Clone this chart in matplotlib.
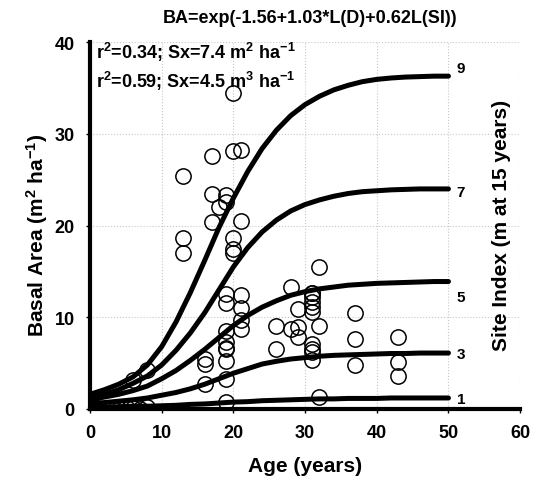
import matplotlib
matplotlib.use("Agg")
import matplotlib.pyplot as plt

plt.rcParams["font.family"] = ["Liberation Sans", "DejaVu Sans"]
plt.rcParams["font.weight"] = "bold"
plt.rcParams["mathtext.default"] = "regular"

# observed stands
AGE = [20, 17, 20, 21, 13, 17, 19, 19, 18, 17, 21, 13, 13, 20, 20, 20,
       32, 28, 19, 21, 31, 19, 21, 21, 21, 19, 19, 19, 19, 19, 19, 19,
       16, 16, 16, 8, 6, 29, 26, 28, 29, 29, 26,
       31, 31, 31, 31, 31, 32, 31, 31, 31, 31,
       37, 37, 37, 43, 43, 43, 32,
       1, 2, 3, 4, 5, 6, 7, 8]
BA = [34.5, 27.6, 28.1, 28.2, 25.4, 23.4, 23.3, 22.6, 22.0, 20.4, 20.5, 18.6, 17.0, 18.7, 17.5, 17.0,
      15.5, 13.3, 12.5, 12.4, 12.7, 11.6, 11.0, 9.7, 8.7, 8.5, 7.3, 6.7, 6.5, 5.2, 3.3, 0.8,
      5.4, 4.9, 2.7, 4.3, 3.2, 10.9, 9.1, 8.7, 8.9, 7.8, 6.5,
      12.2, 11.7, 11.1, 10.6, 7.1, 9.1, 6.5, 6.2, 5.3, 12.7,
      10.5, 7.6, 4.8, 7.8, 5.1, 3.6, 1.3,
      0.1, 0.0, 0.1, 0.0, 0.2, 0.1, 0.0, 0.2]

# predicted basal area by site index
CURVE_AGE = list(range(0, 51, 2))
SI_9 = [1.6, 2.1, 2.7, 3.5, 4.8, 6.8, 9.5, 12.7, 16.2, 19.8, 23.0, 25.9, 28.4,
        30.4, 32.0, 33.2, 34.1, 34.8, 35.3, 35.7, 35.95, 36.1, 36.2, 36.25, 36.3, 36.3]
SI_7 = [1.3, 1.6, 2.1, 2.8, 3.6, 4.8, 6.4, 8.3, 10.5, 13.0, 15.5, 17.6, 19.3,
        20.6, 21.6, 22.3, 22.8, 23.2, 23.5, 23.7, 23.8, 23.9, 23.95, 24.0, 24.0, 24.0]
SI_5 = [1.0, 1.3, 1.6, 2.0, 2.5, 3.3, 4.2, 5.3, 6.5, 7.8, 9.1, 10.2, 11.1,
        11.8, 12.4, 12.8, 13.1, 13.3, 13.5, 13.6, 13.7, 13.75, 13.8, 13.85, 13.9, 13.9]
SI_3 = [0.6, 0.7, 0.85, 1.0, 1.2, 1.5, 1.8, 2.2, 2.7, 3.3, 3.9, 4.4, 4.9,
        5.2, 5.45, 5.6, 5.75, 5.85, 5.9, 5.95, 6.0, 6.05, 6.05, 6.1, 6.1, 6.1]
SI_1 = [0.2, 0.2, 0.25, 0.3, 0.3, 0.35, 0.4, 0.5, 0.55, 0.65, 0.75, 0.8, 0.9,
        0.95, 1.0, 1.05, 1.1, 1.1, 1.15, 1.15, 1.15, 1.2, 1.2, 1.2, 1.2, 1.2]
CURVES = [("9", SI_9, 6), ("7", SI_7, -2), ("5", SI_5, -11), ("3", SI_3, -1), ("1", SI_1, -1)]

fig = plt.figure(figsize=(5.39, 4.89), dpi=100)
ax = fig.add_axes([0.167, 0.1616, 0.798, 0.75])

ax.grid(True, color="#c8c8c8", linestyle=":", linewidth=0.8)
ax.set_axisbelow(True)

for label, values, dy in CURVES:
    ax.plot(CURVE_AGE, values, color="black", linewidth=3.6, solid_capstyle="round",
            solid_joinstyle="round", zorder=3)
    ax.annotate(label, (CURVE_AGE[-1], values[-1]), xytext=(6, dy), textcoords="offset points",
                ha="left", va="center", fontsize=11, fontweight="bold")

ax.plot(AGE, BA, "o", markersize=11, markerfacecolor="none", markeredgecolor="black",
        markeredgewidth=1.1, zorder=4)

ax.set_xlim(0, 60)
ax.set_ylim(0, 40)
ax.set_xticks(range(0, 61, 10))
ax.set_yticks(range(0, 41, 10))
ax.tick_params(direction="out", length=3, width=1, labelsize=13, pad=8)
for lab in ax.get_xticklabels() + ax.get_yticklabels():
    lab.set_fontweight("bold")
for side in ("top", "right"):
    ax.spines[side].set_visible(False)
for side in ("left", "bottom"):
    ax.spines[side].set_linewidth(3)

fig.text(0.575, 0.962, "BA=exp(-1.56+1.03*L(D)+0.62L(SI))", ha="center", va="center",
         fontsize=13, fontweight="bold")
ax.text(0.015, 0.975, r"r$^2$=0.34; Sx=7.4 m$^2$ ha$^{-1}$", transform=ax.transAxes,
        ha="left", va="center", fontsize=13, fontweight="bold")
ax.text(0.015, 0.895, r"r$^2$=0.59; Sx=4.5 m$^3$ ha$^{-1}$", transform=ax.transAxes,
        ha="left", va="center", fontsize=13, fontweight="bold")

fig.text(0.566, 0.047, "Age (years)", ha="center", va="center", fontsize=15, fontweight="bold")
fig.text(0.068, 0.52, r"Basal Area (m$^2$ ha$^{-1}$)", rotation=90, ha="center", va="center",
         fontsize=15, fontweight="bold")
fig.text(0.931, 0.538, "Site Index (m at 15 years)", rotation=90, ha="center", va="center",
         fontsize=15, fontweight="bold")

fig.savefig("out.png", dpi=100)
